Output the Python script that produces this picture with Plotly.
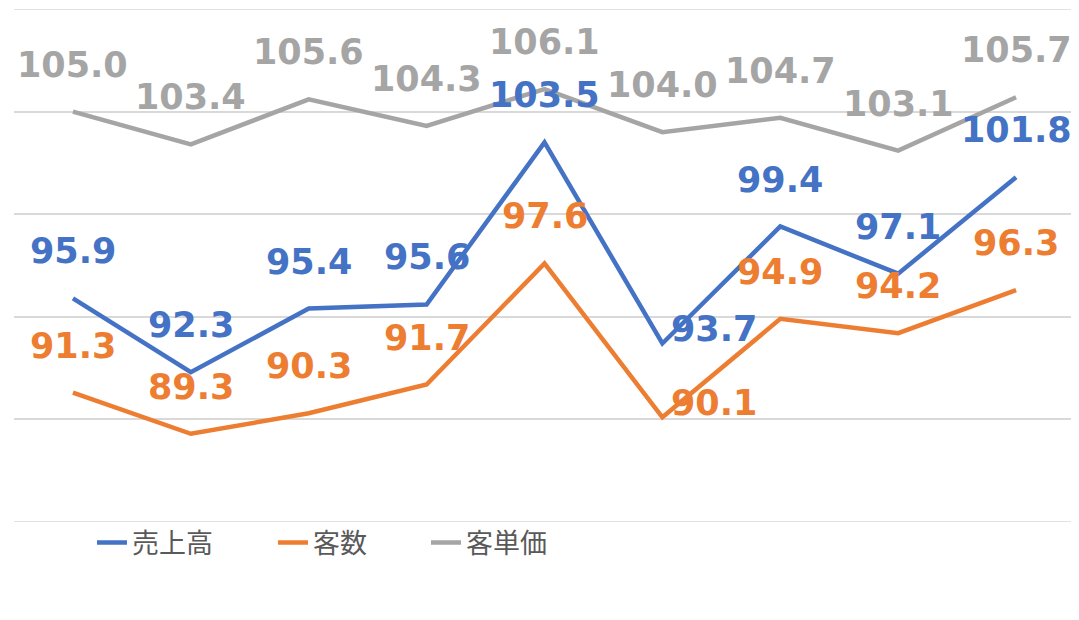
import plotly.graph_objects as go

categories = ["1", "2", "3", "4", "5", "6", "7", "8", "9"]
series_names = ["売上高", "客数", "客単価"]
sales = [95.9, 92.3, 95.4, 95.6, 103.5, 93.7, 99.4, 97.1, 101.8]
customers = [91.3, 89.3, 90.3, 91.7, 97.6, 90.1, 94.9, 94.2, 96.3]
unit_price = [105.0, 103.4, 105.6, 104.3, 106.1, 104.0, 104.7, 103.1, 105.7]
y_min, y_max = 85, 110
colors = ["#4472C4", "#ED7D31", "#A5A5A5"]
right_labels = {0: [5], 1: [5], 2: []}  # indexes whose labels sit to the right
legend_ids = ["legend", "legend2", "legend3"]
legend_x = [0.0735, 0.2441, 0.3883]

fig = go.Figure()
xs = list(range(len(categories)))
annotations = []
for si, (name, vals, col) in enumerate(zip(series_names, [sales, customers, unit_price], colors)):
    fig.add_trace(go.Scatter(x=xs, y=vals, mode="lines", name=name, legend=legend_ids[si],
                             line=dict(color=col, width=4.5)))
    for i, v in enumerate(vals):
        if i in right_labels[si]:
            annotations.append(dict(x=i, y=v, text=f"{v:.1f}", showarrow=False,
                                    xanchor="left", yanchor="middle", xshift=7, yshift=14,
                                    font=dict(family="DejaVu Sans", size=35, color=col, weight="bold")))
        else:
            annotations.append(dict(x=i, y=v, text=f"{v:.1f}", showarrow=False,
                                    xanchor="center", yanchor="middle", yshift=47,
                                    font=dict(family="DejaVu Sans", size=35, color=col, weight="bold")))

# edge gridlines (plotly clips gridlines at the very edges of the range)
shapes = [dict(type="line", xref="paper", x0=0, x1=1, yref="y", y0=yv, y1=yv,
               line=dict(color="#D9D9D9", width=1.5), layer="below")
          for yv in (y_min, y_max)]

legend_font = dict(family="Noto Sans CJK JP", size=27, color="#595959")
layout_legends = {}
for lid, lx in zip(legend_ids, legend_x):
    layout_legends[lid] = dict(orientation="h", x=lx, xanchor="left", y=-0.041, yanchor="middle",
                               font=legend_font, bgcolor="rgba(0,0,0,0)")

fig.update_layout(
    width=1071, height=612,
    margin=dict(l=6, r=4, t=1, b=98),
    paper_bgcolor="white", plot_bgcolor="white",
    showlegend=True,
    annotations=annotations,
    shapes=shapes,
    xaxis=dict(range=[-0.5, len(categories) - 0.5], showgrid=False, zeroline=False,
               showticklabels=False, showline=False, ticks=""),
    yaxis=dict(range=[y_min, y_max], tick0=y_min, dtick=5, showgrid=True, gridcolor="#D9D9D9",
               gridwidth=1.5, zeroline=False, showticklabels=False, ticks=""),
    **layout_legends,
)

fig.write_html("out.html")
